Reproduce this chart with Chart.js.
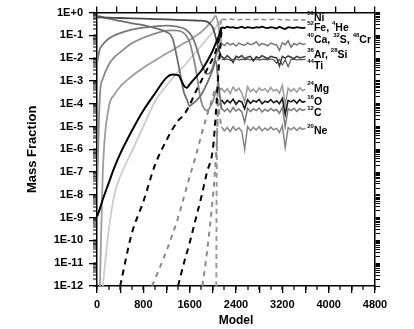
<!DOCTYPE html>
<html>
<head>
<meta charset="utf-8">
<script src="https://cdn.jsdelivr.net/npm/chart.js@4.4.0/dist/chart.umd.min.js"></script>
<style>
html, body { margin: 0; padding: 0; background: #fff; }
</style>
</head>
<body>
<canvas id="mycanvas" width="414" height="329"></canvas>
<script>
// tick labels
var xTickLabels = [0, 800, 1600, 2400, 3200, 4000, 4800];
var yTickValues = [1e-12, 1e-11, 1e-10, 1e-9, 1e-8, 1e-7, 1e-6, 1e-5, 1e-4, 1e-3, 1e-2, 1e-1, 1];
var yTickLabels = ['1E-12', '1E-11', '1E-10', '1E-9', '1E-8', '1E-7', '1E-6', '1E-5', '1E-4', '1E-3', '1E-2', '1E-1', '1E+0'];

// early evolution (models 0 - 2150)
var modelEarly = [0, 50, 100, 200, 300, 400, 600, 800, 1000, 1200, 1300, 1400, 1500, 1550, 1600, 1650, 1700, 1800, 1900, 2000, 2050, 2100, 2150];
var darkTop   = [0.62, 0.62, 0.61, 0.60, 0.59, 0.58, 0.56, 0.54, 0.52, 0.50, 0.49, 0.48, 0.47, 0.465, 0.46, 0.455, 0.45, 0.44, 0.40, 0.22, 0.08, 0.025, 0.011];
var grayFall  = [0.71, 0.68, 0.63, 0.55, 0.48, 0.43, 0.34, 0.28, 0.21, 0.14, 0.079, 6.3e-3, 3.2e-4, 1.6e-4, 7.9e-5, 1.0e-4, 1.26e-4, 2.5e-4, 7.9e-4, 3.2e-3, 7.9e-3, 6.3e-4, 5.5e-5];
var grayHigh  = [6.3e-3, 0.025, 0.04, 0.071, 0.1, 0.126, 0.178, 0.22, 0.25, 0.27, 0.263, 0.24, 0.2, 0.166, 0.126, 0.079, 0.04, 6.3e-3, 2.0e-3, 4.0e-3, 0.0126, 0.025, 0.041];
var grayMid   = [1e-8, 2.5e-4, 1.26e-3, 5.0e-3, 0.011, 0.018, 0.045, 0.079, 0.12, 0.16, 0.166, 0.16, 0.126, 0.089, 0.05, 0.016, 4.0e-3, 1.26e-4, 5.0e-5, 1.26e-4, 3.2e-4, 5.0e-4, 4.0e-4];
var grayRise  = [null, 1e-12, 1e-7, 6.3e-5, 2.5e-4, 5.6e-4, 1.6e-3, 3.8e-3, 7.9e-3, 0.016, 0.022, 0.032, 0.045, 0.052, 0.063, 0.076, 0.093, 0.14, 0.25, 0.5, 0.71, 0.25, 0.041];
var lightRise = [null, null, 1e-12, 2.5e-10, 1e-8, 6.3e-8, 7.9e-7, 1e-5, 1.26e-4, 6.3e-4, 1.26e-3, 2.5e-3, 4.5e-3, 6.3e-3, 8.9e-3, 0.0126, 0.018, 0.035, 0.071, 0.14, 0.22, 0.35, 0.5];
var blackRise = [1.1e-9, 2.5e-9, 6.3e-9, 3.2e-8, 1.6e-7, 6.3e-7, 6.3e-6, 5.0e-5, 2.8e-4, 1.4e-3, 1.9e-3, 1.8e-3, 6.3e-4, 5.0e-4, 7.1e-4, 1.0e-3, 1.4e-3, 2.8e-3, 7.1e-3, 0.022, 0.045, 0.089, 0.22];

// dashed curves rising from the bottom
var blackDash1X = [400, 600, 800, 1000, 1200, 1400, 1500, 1600, 1700, 1800, 1900, 2000, 2050, 2100, 2150];
var blackDash1Y = [1e-12, 2.0e-10, 5.0e-9, 2.0e-7, 2.5e-6, 1.8e-5, 3.2e-5, 8.9e-5, 3.2e-4, 1e-3, 3.2e-3, 0.01, 0.02, 0.06, 0.22];
var grayDash1X = [950, 1000, 1200, 1400, 1500, 1600, 1700, 1800, 1900, 2000, 2050, 2100, 2150];
var grayDash1Y = [1e-12, 2.0e-12, 3.5e-11, 1e-9, 7.9e-9, 6.3e-8, 4.5e-7, 4.0e-6, 3.2e-5, 2.0e-4, 5.0e-4, 6.3e-5, 7.9e-6];
var blackDash2X = [1400, 1500, 1600, 1700, 1800, 1900, 2000, 2050, 2100, 2150];
var blackDash2Y = [1e-12, 1e-11, 7.9e-11, 7.9e-10, 7.9e-9, 1e-7, 1e-6, 3.2e-5, 3.2e-3, 0.16];
var grayDash2X = [1820, 1900, 2000, 2060, 2100, 2150];
var grayDash2Y = [1e-12, 3.2e-11, 7.9e-9, 7.9e-7, 1e-4, 5.5e-5];
var grayDash3X = [2060, 2065, 2075, 2090, 2110, 2150];
var grayDash3Y = [1e-12, 1e-8, 1e-5, 3.2e-3, 0.1, 0.5];

// late, noisy equilibrium (models 2150 - 3600)
var modelLate = [2150, 2200, 2250, 2300, 2350, 2400, 2450, 2500, 2550, 2600, 2650, 2700, 2750, 2800, 2850, 2900, 2950, 3000, 3050, 3100, 3150, 3200, 3250, 3300, 3350, 3400, 3450, 3500, 3550, 3600];
var ni56 = [0.50, 0.51, 0.50, 0.52, 0.50, 0.51, 0.49, 0.50, 0.51, 0.50, 0.50, 0.49, 0.50, 0.51, 0.50, 0.49, 0.50, 0.50, 0.51, 0.49, 0.50, 0.48, 0.50, 0.47, 0.46, 0.47, 0.48, 0.47, 0.48, 0.47];
var fe52 = [0.23, 0.21, 0.24, 0.22, 0.23, 0.21, 0.22, 0.24, 0.21, 0.23, 0.22, 0.21, 0.23, 0.22, 0.24, 0.22, 0.21, 0.23, 0.22, 0.20, 0.24, 0.21, 0.19, 0.23, 0.22, 0.21, 0.23, 0.22, 0.21, 0.22];
var ca40 = [0.045, 0.036, 0.048, 0.038, 0.044, 0.034, 0.046, 0.040, 0.037, 0.047, 0.039, 0.043, 0.052, 0.036, 0.044, 0.040, 0.035, 0.046, 0.041, 0.038, 0.022, 0.047, 0.039, 0.058, 0.030, 0.044, 0.038, 0.046, 0.040, 0.043];
var ar36 = [0.012, 0.0095, 0.013, 0.010, 0.0065, 0.012, 0.0105, 0.013, 0.0095, 0.011, 0.012, 0.0075, 0.0115, 0.010, 0.013, 0.011, 0.0095, 0.012, 0.011, 0.0105, 0.0045, 0.012, 0.010, 0.0125, 0.011, 0.0095, 0.012, 0.0105, 0.011, 0.012];
var ti44 = [0.0090, 0.0085, 0.0092, 0.0080, 0.0088, 0.0094, 0.0083, 0.0090, 0.0086, 0.0091, 0.0084, 0.0089, 0.0093, 0.0082, 0.0088, 0.0090, 0.0085, 0.0092, 0.0087, 0.0060, 0.0089, 0.0050, 0.0086, 0.0042, 0.0088, 0.0091, 0.0084, 0.0089, 0.0087, 0.0090];
var mg24 = [5.0e-4, 3.2e-4, 4.6e-4, 2.8e-4, 5.4e-4, 3.6e-4, 4.8e-4, 3.0e-4, 1.2e-4, 5.6e-4, 3.4e-4, 4.4e-4, 3.1e-4, 5.0e-4, 3.8e-4, 4.6e-4, 3.3e-4, 5.2e-4, 3.6e-4, 4.3e-4, 2.9e-4, 6.5e-4, 0.9e-4, 4.8e-4, 3.5e-4, 4.6e-4, 3.2e-4, 5.0e-4, 3.7e-4, 4.4e-4];
var o16 = [1.5e-4, 1.0e-4, 1.4e-4, 1.1e-4, 1.6e-4, 0.95e-4, 1.35e-4, 1.2e-4, 0.6e-4, 1.5e-4, 1.05e-4, 1.4e-4, 1.2e-4, 1.55e-4, 1.0e-4, 1.3e-4, 1.15e-4, 1.5e-4, 1.1e-4, 1.35e-4, 1.0e-4, 1.7e-4, 0.35e-4, 1.4e-4, 1.2e-4, 1.45e-4, 1.05e-4, 1.5e-4, 1.15e-4, 1.3e-4];
var c12 = [6.5e-5, 4.6e-5, 6.0e-5, 4.2e-5, 6.8e-5, 4.8e-5, 5.9e-5, 4.4e-5, 1.5e-5, 6.4e-5, 4.5e-5, 6.0e-5, 5.0e-5, 6.6e-5, 4.3e-5, 5.8e-5, 4.7e-5, 6.2e-5, 4.9e-5, 5.6e-5, 3.8e-5, 7.0e-5, 1.0e-5, 6.1e-5, 5.0e-5, 6.3e-5, 4.6e-5, 6.0e-5, 5.1e-5, 5.7e-5];
var ne20 = [9.5e-6, 6.5e-6, 9.0e-6, 6.0e-6, 1.0e-5, 6.8e-6, 8.8e-6, 6.2e-6, 1.0e-6, 1.0e-5, 6.6e-6, 9.2e-6, 7.0e-6, 9.8e-6, 6.4e-6, 8.6e-6, 6.9e-6, 9.4e-6, 7.1e-6, 8.3e-6, 5.5e-6, 1.1e-5, 1.2e-6, 9.0e-6, 7.2e-6, 9.3e-6, 6.7e-6, 9.0e-6, 7.4e-6, 8.5e-6];

// species labels at the right end of the lines
var labelTexts = ['{56}Ni', '{52}Fe, {4}He', '{40}Ca, {32}S, {48}Cr', '{36}Ar, {28}Si', '{44}Ti', '{24}Mg', '{16}O', '{12}C', '{20}Ne'];
var labelLevels = [0.61, 0.223, 0.067, 0.0149, 0.005, 5.0e-4, 1.28e-4, 4.2e-5, 6.7e-6];
var labelModel = 3630;

var FONT = "'Liberation Sans', Arial, sans-serif";

function pts(xs, ys) {
	return xs.map(function(x, i) { return {x: x, y: ys[i]}; });
}

function curve(xs, ys, color, width, dash) {
	return {
		data: pts(xs, ys),
		borderColor: color,
		borderWidth: width,
		borderDash: dash || [],
		pointRadius: 0,
		fill: false,
		cubicInterpolationMode: 'monotone',
		spanGaps: false
	};
}

function noisy(ys, color, width, dash) {
	return {
		data: pts(modelLate, ys),
		borderColor: color,
		borderWidth: width,
		borderDash: dash || [],
		pointRadius: 0,
		fill: false,
		tension: 0
	};
}

// tick positions for the frame axes
function stepTicks(step) {
	var t = [];
	for (var v = 0; v <= 4800.001; v += step) t.push({value: v});
	return t;
}
function logTicks(withMinor) {
	var t = [];
	for (var e = -12; e <= 0; e++) {
		for (var s = 1; s <= (withMinor ? 9 : 1); s++) {
			if (e === 0 && s > 1) break;
			t.push({value: s * Math.pow(10, e)});
		}
	}
	return t;
}

// minor ticks on the left and bottom, and the species labels
var extras = {
	id: 'extras',
	afterDraw: function(chart) {
		var c = chart.ctx, x = chart.scales.x, y = chart.scales.y;
		var L = x.getPixelForValue(0), B = y.getPixelForValue(1e-12);
		c.save();
		c.fillStyle = '#000000';
		logTicks(true).forEach(function(t) {
			var py = Math.round(y.getPixelForValue(t.value));
			c.fillRect(L - 4, py - 0.5, 4, 1);
		});
		stepTicks(200).forEach(function(t) {
			var px = Math.round(x.getPixelForValue(t.value));
			c.fillRect(px - 0.6, B, 1.2, 4);
		});
		c.textBaseline = 'middle';
		c.textAlign = 'left';
		labelTexts.forEach(function(t, i) {
			var cx = x.getPixelForValue(labelModel);
			var cy = y.getPixelForValue(labelLevels[i]);
			var parts = t.match(/\{\d+\}|[^{]+/g);
			parts.forEach(function(p) {
				if (p.charAt(0) === '{') {
					var n = p.slice(1, -1);
					c.font = 'bold 6px ' + FONT;
					c.fillText(n, cx, cy - 4);
					cx += c.measureText(n).width;
				} else {
					c.font = 'bold 10.5px ' + FONT;
					c.fillText(p, cx, cy + 1);
					cx += c.measureText(p).width;
				}
			});
		});
		c.restore();
	}
};

var datasets = [
	noisy(fe52, '#000000', 1.8),
	noisy(o16, '#1a1a1a', 1.6),
	noisy(ar36, '#3a3a3a', 1.5),
	noisy(ti44, '#555555', 1.2),
	noisy(ca40, '#777777', 1.5),
	noisy(c12, '#7a7a7a', 1.5),
	noisy(mg24, '#999999', 1.5),
	noisy(ne20, '#858585', 1.5),
	noisy(ni56, '#8c8c8c', 1.5, [5, 3]),
	curve(modelEarly, blackRise, '#000000', 2),
	curve(blackDash1X, blackDash1Y, '#000000', 2, [6, 5]),
	curve(blackDash2X, blackDash2Y, '#000000', 2, [6, 5]),
	curve(modelEarly, darkTop, '#4a4a4a', 1.8),
	curve(modelEarly, grayFall, '#6e6e6e', 1.8),
	curve(modelEarly, grayHigh, '#777777', 1.8),
	curve(modelEarly, grayMid, '#8a8a8a', 1.8),
	curve(modelEarly, grayRise, '#9c9c9c', 1.8),
	curve(grayDash1X, grayDash1Y, '#8a8a8a', 2, [5, 5]),
	curve(grayDash2X, grayDash2Y, '#8a8a8a', 2, [5, 5]),
	curve(grayDash3X, grayDash3Y, '#999999', 2, [5, 4]),
	curve(modelEarly, lightRise, '#cccccc', 1.8)
];

var tickGrid = function(len) {
	return { display: true, drawOnChartArea: false, drawTicks: true, tickLength: len, tickColor: '#000', tickWidth: 1.3, color: '#000', lineWidth: 1.3 };
};
var frameBorder = { display: true, color: '#000', width: 1.5 };

var canvas = document.getElementById('mycanvas');

var chart = new Chart(canvas, {
	type: 'line',
	data: { datasets: datasets },
	options: {
		responsive: false,
		animation: false,
		devicePixelRatio: 1,
		layout: { padding: 0 },
		plugins: { legend: { display: false }, tooltip: { enabled: false } },
		scales: {
			x: {
				type: 'linear',
				position: 'bottom',
				min: 0,
				max: 4800,
				afterBuildTicks: function(s) { s.ticks = stepTicks(400); },
				afterFit: function(s) { s.height = 43; },
				ticks: {
					color: '#000', padding: 5, maxRotation: 0, autoSkip: false,
					font: { family: FONT, size: 11, weight: 'bold' },
					callback: function(v) { return xTickLabels.indexOf(v) >= 0 ? String(v) : ''; }
				},
				grid: tickGrid(7),
				border: frameBorder,
				title: { display: true, text: 'Model', color: '#000', padding: { top: 0, bottom: 1 }, font: { family: FONT, size: 12, weight: 'bold' } }
			},
			xTop: {
				type: 'linear',
				position: 'top',
				min: 0,
				max: 4800,
				afterBuildTicks: function(s) { s.ticks = stepTicks(4800 / 14); },
				afterFit: function(s) { s.height = 6; },
				ticks: { display: false },
				grid: tickGrid(6),
				border: frameBorder
			},
			y: {
				type: 'logarithmic',
				position: 'left',
				min: 1e-12,
				max: 1,
				afterBuildTicks: function(s) { s.ticks = yTickValues.map(function(v) { return {value: v}; }); },
				afterFit: function(s) { s.width = 97; },
				ticks: {
					color: '#000', padding: 6, autoSkip: false,
					font: { family: FONT, size: 11, weight: 'bold' },
					callback: function(v, i) { return yTickLabels[i]; }
				},
				grid: tickGrid(8),
				border: frameBorder,
				title: { display: true, text: 'Mass Fraction', color: '#000', padding: { top: 25, bottom: 0 }, font: { family: FONT, size: 13, weight: 'bold' } }
			},
			yRight: {
				type: 'logarithmic',
				position: 'right',
				min: 1e-12,
				max: 1,
				afterBuildTicks: function(s) { s.ticks = logTicks(true); },
				afterFit: function(s) { s.width = 39; },
				ticks: { display: false },
				grid: { display: true, drawOnChartArea: false, drawTicks: true, tickLength: 5, tickColor: '#000', tickWidth: 1, color: '#000', lineWidth: 1 },
				border: frameBorder
			}
		}
	},
	plugins: [extras]
});
</script>
</body>
</html>
